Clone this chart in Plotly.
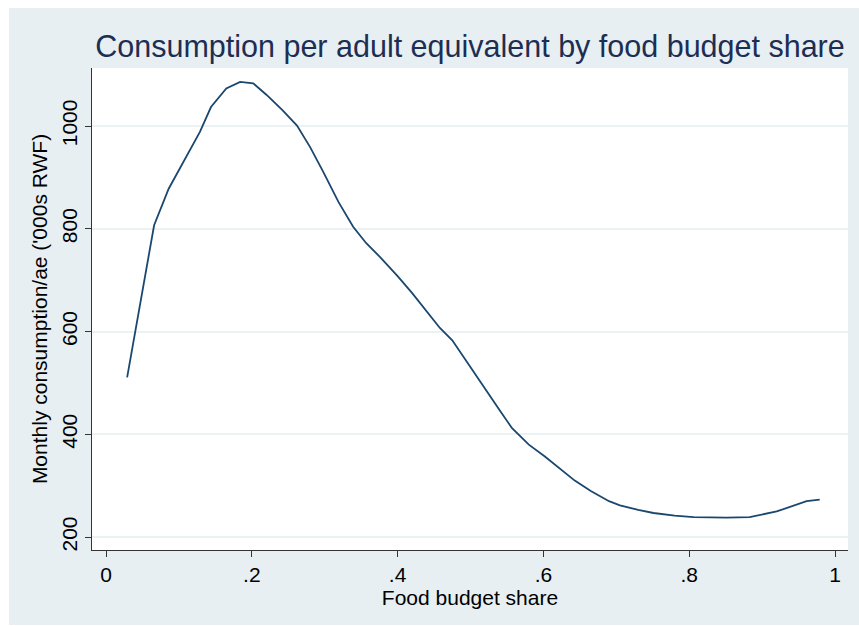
import plotly.graph_objects as go

# Smoothed monthly consumption per adult equivalent against food budget share
food_share = [0.029, 0.066, 0.086, 0.108, 0.129, 0.144, 0.165, 0.184, 0.202, 0.220,
              0.242, 0.262, 0.280, 0.298, 0.319, 0.339, 0.357, 0.376, 0.400, 0.420,
              0.440, 0.458, 0.475, 0.500, 0.520, 0.540, 0.557, 0.580, 0.602, 0.623,
              0.643, 0.665, 0.690, 0.705, 0.730, 0.751, 0.780, 0.806, 0.830, 0.851,
              0.883, 0.920, 0.961, 0.979]
consumption = [511, 807, 878, 935, 989, 1037, 1073, 1086, 1083, 1061,
               1031, 1001, 959, 911, 852, 804, 772, 745, 708, 675,
               640, 607, 583, 530, 488, 447, 412, 380, 357, 332,
               310, 290, 270, 262, 253, 247, 242, 239, 238, 238,
               239, 250, 270, 273]

x_ticks = [0, 0.2, 0.4, 0.6, 0.8, 1]
x_tick_text = ["0", ".2", ".4", ".6", ".8", "1"]
y_ticks = [200, 400, 600, 800, 1000]

BG = "#e8eff2"
NAVY = "#1a476f"
FONT = "Liberation Sans, Arial, sans-serif"

fig = go.Figure()
fig.add_trace(go.Scatter(x=food_share, y=consumption, mode="lines",
                         line=dict(color=NAVY, width=1.8), showlegend=False))

fig.update_layout(
    width=859, height=626,
    margin=dict(l=92, r=11, t=68, b=76),
    paper_bgcolor=BG, plot_bgcolor="white",
    font=dict(family=FONT, size=21, color="black"),
    title=dict(text="Consumption per adult equivalent by food budget share",
               font=dict(family=FONT, size=30.5, color="#1c2e52"),
               x=0.5, xref="paper", xanchor="center", y=1 - 46 / 626, yanchor="middle"),
    xaxis=dict(range=[-0.0192, 1.0178], tickvals=x_ticks, ticktext=x_tick_text,
               showgrid=False, zeroline=False, showline=True, linecolor="#333",
               linewidth=1, ticks="outside", ticklen=6, tickcolor="#333",
               tickfont=dict(size=21),
               title=dict(text="Food budget share", font=dict(size=21), standoff=0)),
    yaxis=dict(range=[175, 1113], tickvals=y_ticks, tickangle=-90,
               showgrid=True, gridcolor="#eaf2f3", gridwidth=1.5, zeroline=False,
               showline=True, linecolor="#333", linewidth=1, ticks="outside",
               ticklen=6, tickcolor="#333", tickfont=dict(size=21),
               title=dict(text="Monthly consumption/ae ('000s RWF)",
                          font=dict(size=21), standoff=4)),
    shapes=[
        dict(type="rect", xref="paper", yref="paper", layer="below",
             x0=-92 / 756, x1=(9 - 92) / 756, y0=-76 / 482, y1=550 / 482,
             fillcolor="white", line=dict(width=0)),
        dict(type="rect", xref="paper", yref="paper", layer="below",
             x0=-92 / 756, x1=767 / 756, y0=(550 - 8) / 482, y1=550 / 482,
             fillcolor="white", line=dict(width=0)),
        dict(type="rect", xref="paper", yref="paper", layer="below",
             x0=-92 / 756, x1=767 / 756, y0=(550 - 626) / 482, y1=(550 - 625) / 482,
             fillcolor="white", line=dict(width=0)),
    ],
)

fig.write_html("out.html")
